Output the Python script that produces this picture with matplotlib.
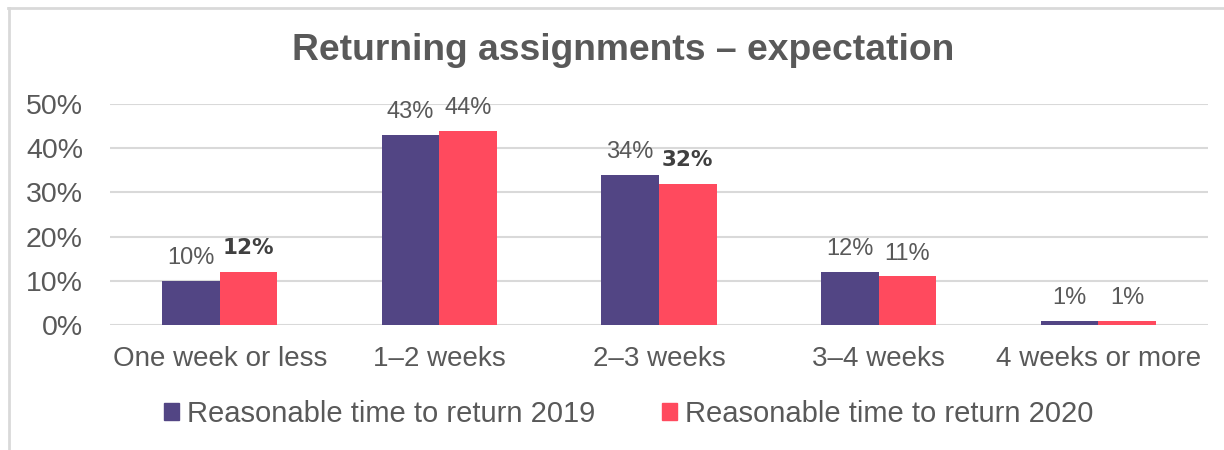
import matplotlib
matplotlib.use("Agg")
import matplotlib.pyplot as plt
from matplotlib.lines import Line2D
from matplotlib.patches import Rectangle
import numpy as np

plt.rcParams['font.family'] = ['Liberation Sans', 'DejaVu Sans']

title = "Returning assignments – expectation"
categories = ["One week or less", "1–2 weeks", "2–3 weeks", "3–4 weeks", "4 weeks or more"]
series_names = ["Reasonable time to return 2019", "Reasonable time to return 2020"]
values_2019 = [0.10, 0.43, 0.34, 0.12, 0.01]
values_2020 = [0.12, 0.44, 0.32, 0.11, 0.01]
bold_2020 = [True, False, True, False, False]
yticks = [0, 0.1, 0.2, 0.3, 0.4, 0.5]
ytick_labels = ["0%", "10%", "20%", "30%", "40%", "50%"]

c2019 = "#524584"
c2020 = "#FF4A5E"
txt = "#595959"
grid = "#D9D9D9"

W, H = 1224, 450
fig = plt.figure(figsize=(W / 100, H / 100), dpi=100)
ax = fig.add_axes([110 / W, (H - 325) / H, 1098 / W, 221 / H])

x = np.arange(len(categories))
bw = 0.262
ax.bar(x - bw / 2, values_2019, bw, color=c2019, zorder=3)
ax.bar(x + bw / 2, values_2020, bw, color=c2020, zorder=3)

ax.set_xlim(-0.5, len(categories) - 0.5)
ax.set_ylim(0, 0.5)
ax.set_yticks(yticks)
ax.set_yticklabels(ytick_labels)
ax.set_xticks(x)
ax.set_xticklabels(categories)
ax.tick_params(axis='y', length=0, pad=19.5, labelsize=20.5, labelcolor=txt)
ax.tick_params(axis='x', length=0, pad=15, labelsize=20, labelcolor=txt)
for s in ax.spines.values():
    s.set_visible(False)
ax.yaxis.grid(True, color=grid, linewidth=1.5, zorder=0)
ax.set_axisbelow(True)

for xi, v in zip(x, values_2019):
    ax.annotate(f"{round(v * 100)}%", (xi - bw / 2, v), xytext=(0, 12), textcoords='offset points',
                ha='center', va='baseline', fontsize=17, color=txt)
for xi, v, b in zip(x, values_2020, bold_2020):
    if b:
        ax.annotate(f"{round(v * 100)}%", (xi + bw / 2, v), xytext=(0, 13), textcoords='offset points',
                    ha='center', va='baseline', fontsize=15.5, color="#404040", fontweight='bold',
                    family='DejaVu Sans')
    else:
        ax.annotate(f"{round(v * 100)}%", (xi + bw / 2, v), xytext=(0, 12), textcoords='offset points',
                    ha='center', va='baseline', fontsize=17, color=txt)

fig.text(623 / W, 1 - 51 / H, title, ha='center', va='center', fontsize=26.8, fontweight='bold', color=txt)

handles = [Rectangle((0, 0), 1, 1, color=c2019), Rectangle((0, 0), 1, 1, color=c2020)]
fig.legend(handles, series_names, loc='center', bbox_to_anchor=(629 / W, 1 - 414 / H), ncol=2,
           frameon=False, fontsize=21, handlelength=0.51, handleheight=0.51,
           handletextpad=0.27, columnspacing=2.3, labelcolor=txt)

# chart border
fig.add_artist(Line2D([8 / W, 1], [1 - 8 / H, 1 - 8 / H], color="#D9D9D9", linewidth=2, transform=fig.transFigure))
fig.add_artist(Line2D([9 / W, 9 / W], [0, 1 - 8 / H], color="#D9D9D9", linewidth=2, transform=fig.transFigure))

fig.savefig("out.png", dpi=100, facecolor='white')
